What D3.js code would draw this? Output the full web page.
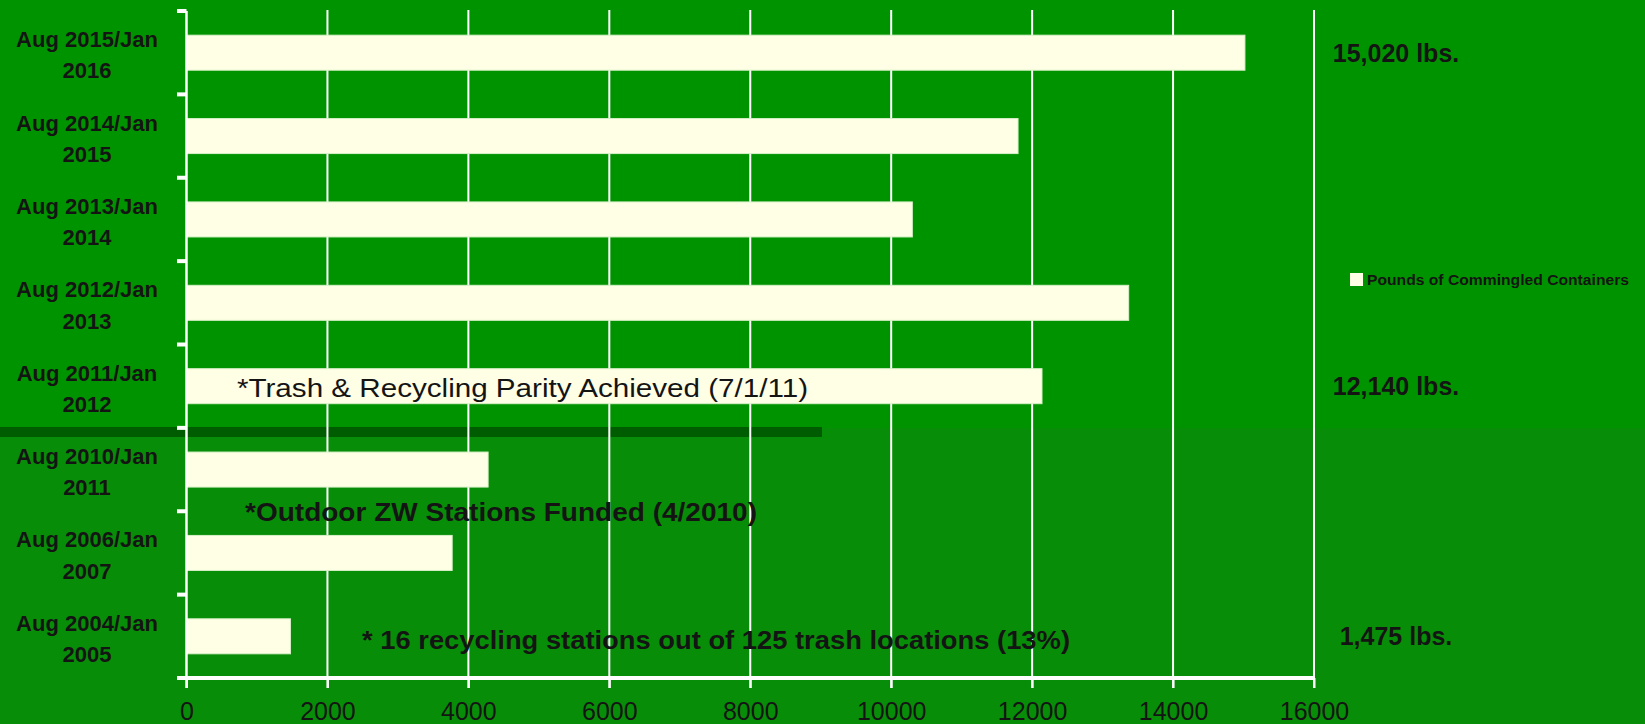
<!DOCTYPE html>
<html>
<head>
<meta charset="utf-8">
<script src="https://cdn.jsdelivr.net/npm/d3@7"></script>
<style>
  body { margin: 0; background: #009000; }
  svg { display: block; }
  text { font-family: 'Liberation Sans', Arial, sans-serif; fill: #141414; }
</style>
</head>
<body>
<div id="chart"></div>
<script>
const categories = [
	['Aug 2015/Jan', '2016'],
	['Aug 2014/Jan', '2015'],
	['Aug 2013/Jan', '2014'],
	['Aug 2012/Jan', '2013'],
	['Aug 2011/Jan', '2012'],
	['Aug 2010/Jan', '2011'],
	['Aug 2006/Jan', '2007'],
	['Aug 2004/Jan', '2005'],
];
const pounds = [15020, 11800, 10300, 13370, 12140, 4280, 3770, 1475];
const xTicks = [0, 2000, 4000, 6000, 8000, 10000, 12000, 14000, 16000];
const valueLabels = [
	{ row: 0, text: '15,020 lbs.' },
	{ row: 4, text: '12,140 lbs.' },
	{ row: 7, text: '1,475 lbs.' },
];
const seriesName = 'Pounds of Commingled Containers';

const W = 1645;
const H = 724;

const svg = d3.select('#chart').append('svg').attr('width', W).attr('height', H);

const x = d3.scaleLinear().domain([0, 16000]).range([186.5, 1314]);
const y = d3
	.scaleBand()
	.domain(d3.range(categories.length))
	.range([11, 678])
	.paddingInner(0.58)
	.paddingOuter(0.29);
const step = y.step();
const barColor = '#ffffe6';

// background: upper part, lower part, dark divider
svg.append('rect').attr('width', W).attr('height', H).attr('fill', '#009300');
svg.append('rect').attr('x', 0).attr('y', 428).attr('width', W).attr('height', H - 428).attr('fill', '#088d08');
svg.append('rect').attr('x', 0).attr('y', 427).attr('width', 822).attr('height', 10).attr('fill', '#005c00');

// vertical gridlines
svg
	.append('g')
	.selectAll('line')
	.data(xTicks.slice(1))
	.join('line')
	.attr('x1', (d) => x(d))
	.attr('x2', (d) => x(d))
	.attr('y1', 10)
	.attr('y2', 688)
	.attr('stroke', '#ffffff')
	.attr('stroke-width', 2);

// bars
svg
	.append('g')
	.selectAll('rect')
	.data(pounds)
	.join('rect')
	.attr('x', x(0))
	.attr('y', (d, i) => y(i))
	.attr('width', (d) => x(d) - x(0))
	.attr('height', y.bandwidth())
	.attr('fill', barColor)
	.attr('stroke', '#d8f0c8')
	.attr('stroke-width', 1);

// x axis
const xAxis = svg
	.append('g')
	.attr('transform', 'translate(0,678)')
	.call(
		d3.axisBottom(x).tickValues(xTicks).tickFormat(d3.format('d')).tickSize(10).tickSizeOuter(0).tickPadding(14)
	);
xAxis.select('.domain').remove();
xAxis.selectAll('.tick line').attr('stroke', '#ffffff').attr('stroke-width', 2);
xAxis
	.selectAll('.tick text')
	.attr('font-size', '25px')
	.attr('fill', '#141414')
	.attr('font-family', "'Liberation Sans', Arial, sans-serif");
svg
	.append('line')
	.attr('x1', 177)
	.attr('x2', x(16000) + 1)
	.attr('y1', 678)
	.attr('y2', 678)
	.attr('stroke', '#ffffff')
	.attr('stroke-width', 4);

// y axis line and tick marks
svg
	.append('line')
	.attr('x1', x(0))
	.attr('x2', x(0))
	.attr('y1', 11)
	.attr('y2', 688)
	.attr('stroke', '#ffffff')
	.attr('stroke-width', 2.5);
svg
	.append('g')
	.selectAll('line')
	.data(d3.range(categories.length))
	.join('line')
	.attr('x1', 177)
	.attr('x2', x(0))
	.attr('y1', (d) => 11 + d * step)
	.attr('y2', (d) => 11 + d * step)
	.attr('stroke', '#ffffff')
	.attr('stroke-width', 4);

// category labels
const catLabels = svg
	.append('g')
	.selectAll('text')
	.data(categories)
	.join('text')
	.attr('x', 87)
	.attr('y', (d, i) => y(i) + y.bandwidth() / 2)
	.attr('text-anchor', 'middle')
	.attr('font-size', '22px')
	.attr('font-weight', 'bold');
catLabels
	.append('tspan')
	.attr('x', 87)
	.attr('dy', '-0.25em')
	.text((d) => d[0]);
catLabels
	.append('tspan')
	.attr('x', 87)
	.attr('dy', '1.42em')
	.text((d) => d[1]);

// value labels at right
svg
	.append('g')
	.selectAll('text')
	.data(valueLabels)
	.join('text')
	.attr('x', 1396)
	.attr('y', (d) => y(d.row) + y.bandwidth() / 2)
	.attr('dy', '0.36em')
	.attr('text-anchor', 'middle')
	.attr('font-size', '25px')
	.attr('font-weight', 'bold')
	.text((d) => d.text);

// legend
svg.append('rect').attr('x', 1350).attr('y', 273).attr('width', 13).attr('height', 13).attr('fill', barColor);
svg
	.append('text')
	.attr('x', 1367)
	.attr('y', 280)
	.attr('dy', '0.36em')
	.attr('font-size', '14px')
	.attr('font-weight', 'bold')
	.attr('textLength', 262)
	.attr('lengthAdjust', 'spacingAndGlyphs')
	.text(seriesName);

// annotations
const notes = [
	{ text: '*Trash & Recycling Parity Achieved (7/1/11)', x: 237, y: 388, len: 571, weight: 'normal' },
	{ text: '*Outdoor ZW Stations Funded  (4/2010)', x: 245, y: 512, len: 512, weight: 'bold' },
	{ text: '* 16 recycling stations out of 125 trash locations (13%)', x: 362, y: 640, len: 708, weight: 'bold' },
];
svg
	.append('g')
	.selectAll('text')
	.data(notes)
	.join('text')
	.attr('x', (d) => d.x)
	.attr('y', (d) => d.y)
	.attr('dy', '0.36em')
	.attr('font-size', '25px')
	.attr('font-weight', (d) => d.weight)
	.attr('textLength', (d) => d.len)
	.attr('lengthAdjust', 'spacingAndGlyphs')
	.text((d) => d.text);
</script>
</body>
</html>
